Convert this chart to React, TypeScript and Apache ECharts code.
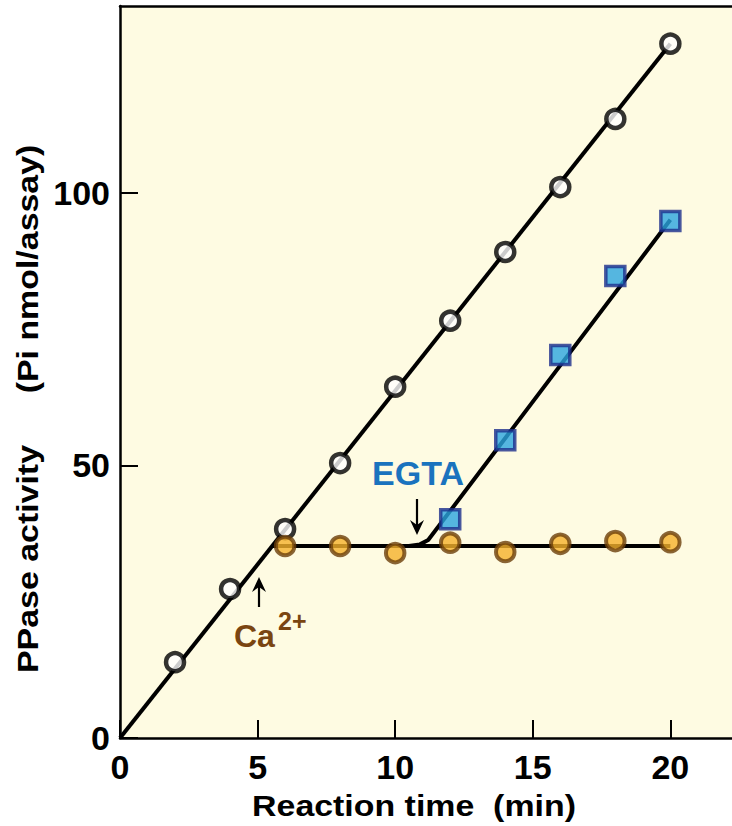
import React, { useEffect, useRef } from "react";
import * as echarts from "echarts";

// Reaction time (min)
const controlTimes = [2, 4, 6, 8, 10, 12, 14, 16, 18, 20];
const controlValues = [13.9, 27.3, 38.3, 50.4, 64.4, 76.5, 89.1, 101.0, 113.5, 127.3];

const caTimes = [6, 8, 10, 12, 14, 16, 18, 20];
const caValues = [35.2, 35.2, 33.9, 35.8, 34.1, 35.6, 36.1, 35.9];

const egtaTimes = [12, 14, 16, 18, 20];
const egtaValues = [40.1, 54.6, 70.2, 84.7, 94.8];

// fitted lines
const controlLine = [[0, 0], [20, 127.3]];
const caLine = [[5.54, 35.2], [20, 35.2]];
const egtaLine = [[10.5, 35.2], [10.9, 35.5], [11.2, 36.3], [20, 95.0]];

const xTicks = [0, 5, 10, 15, 20];
const yTicks = [0, 50, 100];

const FONT = "'Liberation Sans', Arial, sans-serif";

function arrow(x: number, yTail: number, yTip: number) {
  const dir = yTip > yTail ? 1 : -1;
  const headLen = 15;
  const notch = 5;
  const half = 7;
  return [
    {
      type: "line",
      shape: { x1: x, y1: yTail, x2: x, y2: yTip - dir * (headLen - notch) },
      style: { stroke: "#000", lineWidth: 2.2 },
    },
    {
      type: "polygon",
      shape: {
        points: [
          [x, yTip],
          [x - half, yTip - dir * headLen],
          [x, yTip - dir * (headLen - notch)],
          [x + half, yTip - dir * headLen],
        ],
      },
      style: { fill: "#000" },
    },
  ];
}

export default function App() {
  const ref = useRef<HTMLDivElement>(null);
  useEffect(() => {
    if (!ref.current) return;
    const chart = echarts.init(ref.current, null, { renderer: "svg" });
    const zip = (xs: number[], ys: number[]) => xs.map((x, i) => [x, ys[i]]);
    const tickLabel = {
      color: "#000",
      fontSize: 34,
      fontWeight: "bold",
      fontFamily: FONT,
    };
    chart.setOption({
      animation: false,
      backgroundColor: "#ffffff",
      grid: {
        left: 120,
        top: 6,
        right: 0,
        bottom: 88,
        show: true,
        backgroundColor: "#FEFBE2",
        borderWidth: 0,
      },
      xAxis: [
        {
          type: "value",
          min: 0,
          max: 22.24,
          interval: 5,
          position: "bottom",
          splitLine: { show: false },
          axisLine: { show: true, lineStyle: { color: "#000", width: 2.5 } },
          axisTick: {
            show: true,
            inside: true,
            length: 18,
            lineStyle: { color: "#000", width: 2 },
            customValues: xTicks,
          },
          axisLabel: { ...tickLabel, margin: 12, customValues: xTicks },
        },
        {
          type: "value",
          min: 0,
          max: 22.24,
          position: "top",
          splitLine: { show: false },
          axisLine: { show: true, lineStyle: { color: "#000", width: 2.5 } },
          axisTick: { show: false },
          axisLabel: { show: false },
        },
      ],
      yAxis: {
        type: "value",
        min: 0,
        max: 134.2,
        interval: 50,
        splitLine: { show: false },
        axisLine: { show: true, lineStyle: { color: "#000", width: 2.5 } },
        axisTick: {
          show: true,
          inside: true,
          length: 18,
          lineStyle: { color: "#000", width: 2 },
          customValues: yTicks,
        },
        axisLabel: { ...tickLabel, margin: 10, customValues: yTicks },
      },
      series: [
        {
          type: "line",
          data: controlLine,
          symbol: "none",
          lineStyle: { color: "#000", width: 4 },
          z: 2,
        },
        {
          type: "line",
          data: caLine,
          symbol: "none",
          lineStyle: { color: "#000", width: 4 },
          z: 2,
        },
        {
          type: "line",
          data: egtaLine,
          symbol: "none",
          lineStyle: { color: "#000", width: 4 },
          z: 2,
        },
        {
          type: "scatter",
          data: zip(controlTimes, controlValues),
          symbol: "circle",
          symbolSize: 18,
          itemStyle: { color: "#ffffff", borderColor: "#000", borderWidth: 4.5 },
          z: 5,
        },
        {
          type: "scatter",
          data: zip(caTimes, caValues),
          symbol: "circle",
          symbolSize: 18.5,
          itemStyle: { color: "#F5B22C", borderColor: "#6B3F0A", borderWidth: 4 },
          z: 5,
        },
        {
          type: "scatter",
          data: zip(egtaTimes, egtaValues),
          symbol: "rect",
          symbolSize: 19,
          itemStyle: { color: "#2AA5E0", borderColor: "#1B2E8C", borderWidth: 3.5 },
          z: 6,
        },
      ],
      graphic: [
        // y-axis title
        {
          type: "text",
          x: 28,
          y: 559,
          rotation: Math.PI / 2,
          scaleX: 1.13,
          style: {
            text: "PPase activity",
            fill: "#000",
            font: `bold 30px ${FONT}`,
            align: "center",
            verticalAlign: "middle",
          },
        },
        {
          type: "text",
          x: 28,
          y: 269,
          rotation: Math.PI / 2,
          scaleX: 1.13,
          style: {
            text: "(Pi nmol/assay)",
            fill: "#000",
            font: `bold 30px ${FONT}`,
            align: "center",
            verticalAlign: "middle",
          },
        },
        // x-axis title
        {
          type: "text",
          x: 414,
          y: 806,
          scaleX: 1.13,
          style: {
            text: "Reaction time  (min)",
            fill: "#000",
            font: `bold 30px ${FONT}`,
            align: "center",
            verticalAlign: "middle",
          },
        },
        // EGTA annotation
        {
          type: "text",
          x: 418,
          y: 473,
          style: {
            text: "EGTA",
            fill: "#1A73BE",
            font: `bold 34px ${FONT}`,
            align: "center",
            verticalAlign: "middle",
          },
        },
        ...arrow(417, 499, 535),
        // Ca2+ annotation
        ...arrow(259, 607, 577),
        {
          type: "text",
          x: 234,
          y: 636,
          style: {
            text: "Ca",
            fill: "#7A4511",
            font: `bold 32px ${FONT}`,
            align: "left",
            verticalAlign: "middle",
          },
        },
        {
          type: "text",
          x: 278,
          y: 621,
          style: {
            text: "2+",
            fill: "#7A4511",
            font: `bold 25px ${FONT}`,
            align: "left",
            verticalAlign: "middle",
          },
        },
      ],
    });
    return () => chart.dispose();
  }, []);
  return (
    <div
      ref={ref}
      style={{ position: "fixed", left: 0, top: 0, width: 732, height: 826 }}
    />
  );
}
